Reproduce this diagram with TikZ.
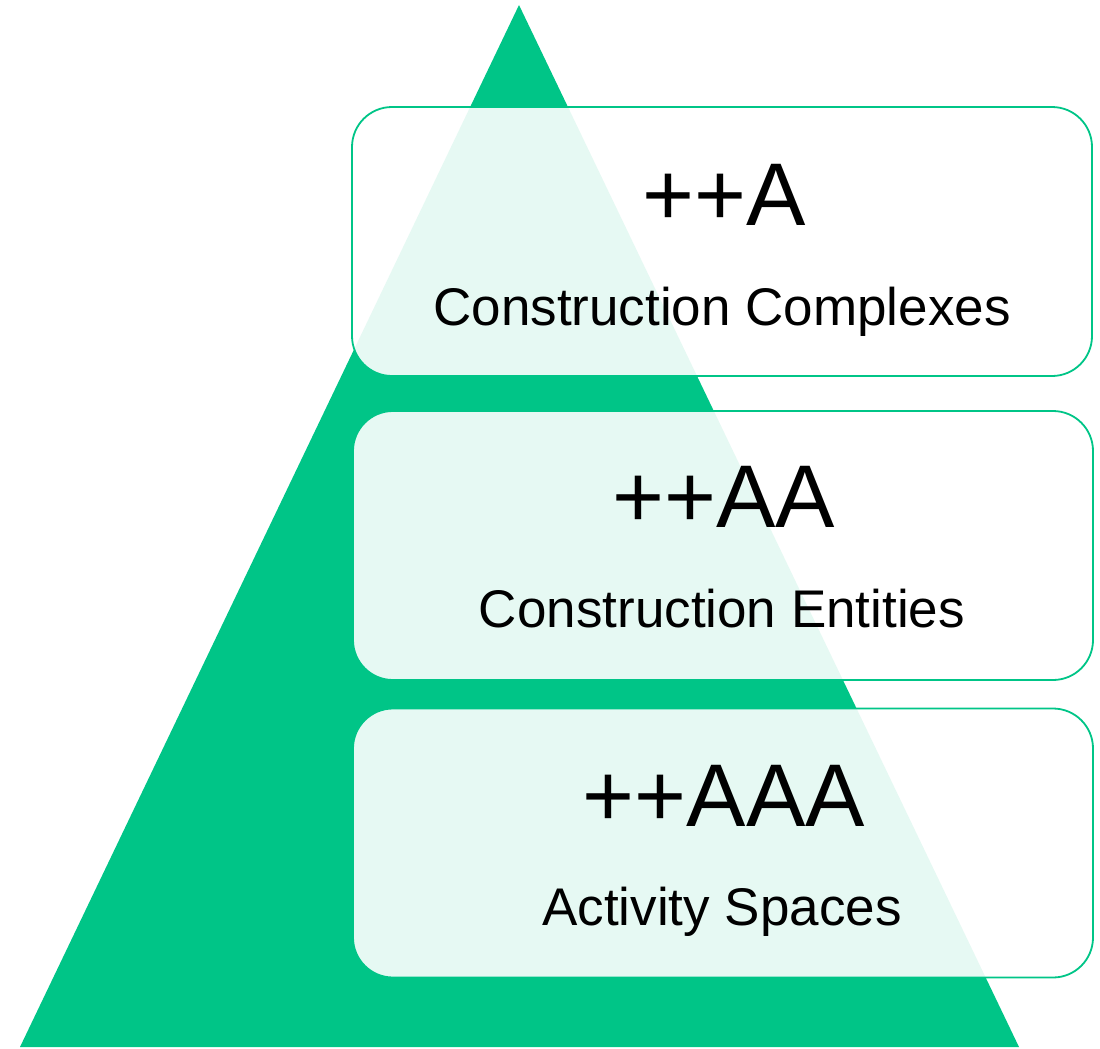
\documentclass[tikz,border=0pt]{standalone}
\usepackage{fontspec}
\setmainfont{Liberation Sans}
\definecolor{pyrgreen}{RGB}{0,197,135}
\tikzset{
  tier/.style={draw=pyrgreen, line width=1.8pt, fill=white, fill opacity=0.9,
    text opacity=1, rounded corners=40pt, minimum width=740pt,
    minimum height=269pt, inner sep=0pt},
  code/.style={anchor=base, inner sep=0pt, font=\fontsize{89}{89}\selectfont},
  caption/.style={anchor=base, inner sep=0pt, font=\fontsize{53}{53}\selectfont}
}
\begin{document}
\begin{tikzpicture}[x=1pt, y=-1pt]
      \useasboundingbox (0,0) rectangle (1100,1049);
      \coordinate (left) at (20,1047);
      \coordinate (apex) at (519,5);
      \coordinate (right) at (1019,1047);
      \fill[pyrgreen] (left) -- (apex) -- (right) -- cycle;
      % three levels
      \node[tier] (tier1) at (722,241.5) {};
      \node[tier] (tier2) at (723,545.5) {};
      \node[tier] (tier3) at (723,843) {};
      \node[code] (code1) at (724,225) {++A};
      \node[caption] (cap1) at (722,325) {Construction Complexes};
      \node[code] (code2) at (724,527) {++AA};
      \node[caption] (cap2) at (722,627) {Construction Entities};
      \node[code] (code3) at (724,826) {++AAA};
      \node[caption] (cap3) at (722,925) {Activity Spaces};
    \end{tikzpicture}
\end{document}
